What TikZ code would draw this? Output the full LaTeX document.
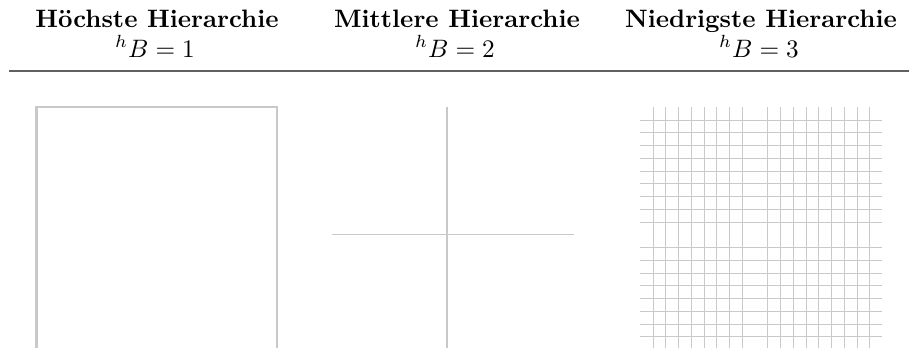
\documentclass[tikz,border=0pt]{standalone}
\usepackage{amsmath}
\usepackage{tikz}
\usetikzlibrary{positioning}
\definecolor{rulegray}{rgb}{0.38,0.38,0.38}
\definecolor{linegray}{rgb}{0.79,0.79,0.79}
\tikzset{
  kopf/.style={
    font=\bfseries,
    anchor=base,
    inner sep=0pt
  },
  ebene/.style={
    anchor=base,
    inner sep=0pt
  },
  rand/.style={
    draw=linegray,
    line width=0.8pt
  },
  kreuz/.style={
    draw=linegray,
    line width=0.6pt
  },
  gitter/.style={
    draw=linegray,
    line width=0.45pt
  },
  trenn/.style={
    draw=rulegray,
    line width=0.8pt
  }
}

\begin{document}
\begin{tikzpicture}[x=0.3968pt, y=-0.3968pt]
\useasboundingbox (0,0) rectangle (909,347);
\clip (0,0) rectangle (909,347);
% Kopfzeile
\node[kopf] (h1) at (157,27) {Höchste Hierarchie};
\node[kopf] (h2) at (457,27) {Mittlere Hierarchie};
\node[kopf] (h3) at (761,27) {Niedrigste Hierarchie};
\node[ebene] (b1) at (155,57) {$^{h}B = 1$};
\node[ebene] (b2) at (455,57) {$^{h}B = 2$};
\node[ebene] (b3) at (759,57) {$^{h}B = 3$};
\coordinate (ra) at (9,70.5);
\coordinate (rb) at (909,70.5);
\draw[trenn] (ra) -- (rb);
% Ebene 1: Rand
\draw[rand] (36.5,106.5) rectangle (277,348.5);
% Ebene 2: Kreuz
\def\zelle{12.737}
\draw[kreuz] (447,107) -- (447,349);
\draw[kreuz] (332,234.5) -- (574,234.5);
% Ebene 3: Gitter
\foreach \k in {1,...,18}{
  \pgfmathsetmacro\gx{round(640+\k*\zelle)+0.5}
  \pgfmathsetmacro\gy{round(107+\k*\zelle)+0.5}
  \ifnum\k=9\else
    \draw[gitter] (\gx,107) -- (\gx,349);
  \fi
  \ifnum\k=10\else
    \draw[gitter] (640,\gy) -- (882,\gy);
  \fi
}
\end{tikzpicture}
\end{document}
